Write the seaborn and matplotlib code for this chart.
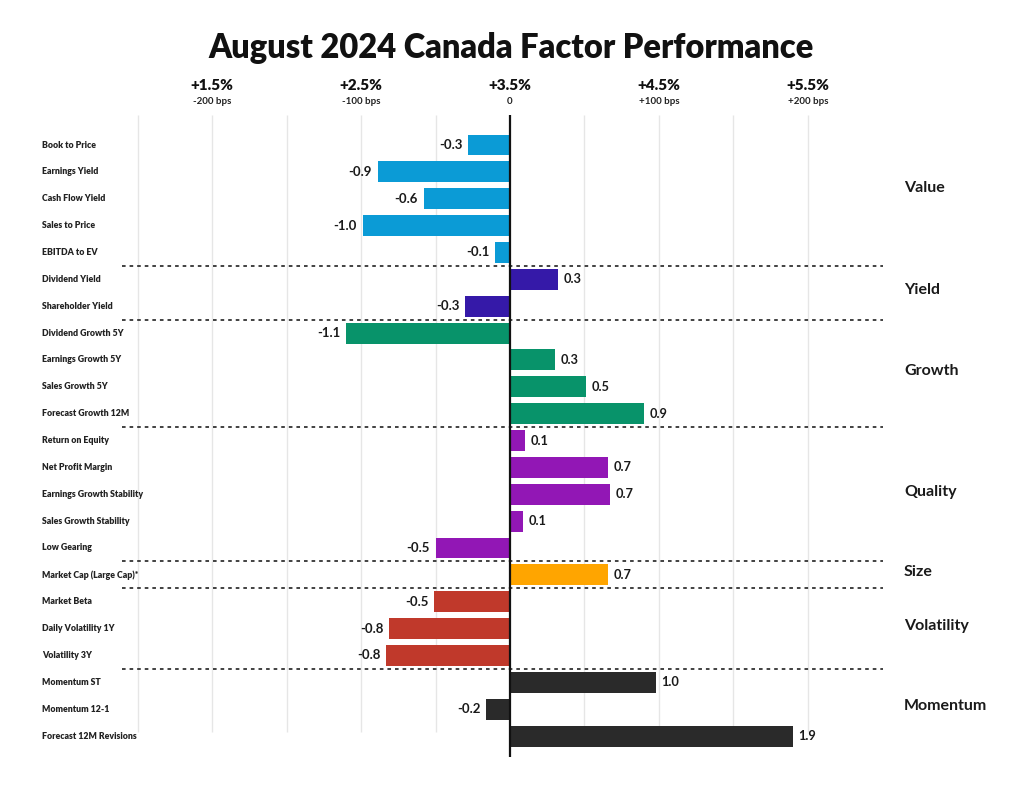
import matplotlib
matplotlib.use("Agg")
import matplotlib.pyplot as plt
import matplotlib.transforms as mtransforms
import seaborn as sns
import pandas as pd
import numpy as np

# ---------------- data ----------------
factors = [
    "Book to Price", "Earnings Yield", "Cash Flow Yield", "Sales to Price", "EBITDA to EV",
    "Dividend Yield", "Shareholder Yield",
    "Dividend Growth 5Y", "Earnings Growth 5Y", "Sales Growth 5Y", "Forecast Growth 12M",
    "Return on Equity", "Net Profit Margin", "Earnings Growth Stability", "Sales Growth Stability", "Low Gearing",
    "Market Cap (Large Cap)*",
    "Market Beta", "Daily Volatility 1Y", "Volatility 3Y",
    "Momentum ST", "Momentum 12-1", "Forecast 12M Revisions",
]
groups = (["Value"] * 5 + ["Yield"] * 2 + ["Growth"] * 4 + ["Quality"] * 5
          + ["Size"] * 1 + ["Volatility"] * 3 + ["Momentum"] * 3)
values = [
    -0.28, -0.89, -0.58, -0.99, -0.10,
    0.32, -0.30,
    -1.10, 0.30, 0.51, 0.90,
    0.10, 0.66, 0.67, 0.09, -0.50,
    0.66,
    -0.51, -0.81, -0.83,
    0.98, -0.16, 1.90,
]
group_order = ["Value", "Yield", "Growth", "Quality", "Size", "Volatility", "Momentum"]
group_colors = ["#0B9BD6", "#3519A8", "#08936A", "#9217B5", "#FFA500", "#C0392B", "#2A2A2A"]
tick_values = [-2, -1, 0, 1, 2]
tick_labels = ["+1.5%", "+2.5%", "+3.5%", "+4.5%", "+5.5%"]
tick_sublabels = ["-200 bps", "-100 bps", "0", "+100 bps", "+200 bps"]
title = "August 2024 Canada Factor Performance"

df = pd.DataFrame({"factor": factors, "group": groups, "value": values})

# ---------------- style ----------------
sns.set_theme(style="white")
plt.rcParams["font.family"] = ["Lato", "DejaVu Sans"]

fig = plt.figure(figsize=(10.24, 7.94), dpi=100)
ax = fig.add_axes([122 / 1024, 1 - 757 / 794, 761 / 1024, 642 / 794])

palette = dict(zip(group_order, group_colors))
sns.barplot(data=df, x="value", y="factor", hue="group", palette=palette,
            hue_order=group_order, order=factors, dodge=False, width=0.78,
            orient="h", legend=False, saturation=1, ax=ax, linewidth=0)

xlo, xhi = -2.606, 2.505
ylo, yhi = -1.117, 22.78
ax.set_xlim(xlo, xhi)
ax.set_ylim(yhi, ylo)

# grid lines every 0.5 except 0
grid_x = [g for g in np.arange(-2.5, 2.01, 0.5) if abs(g) > 1e-9]
ax.vlines(grid_x, ylo, 21.85, color="#e6e6e6", lw=1, zorder=0)
ax.vlines([0], ylo, yhi, color="#111111", lw=1.6, zorder=5)

# group separators
bounds = []
prev = groups[0]
for i, g in enumerate(groups):
    if g != prev:
        bounds.append(i - 0.5)
        prev = g
ax.hlines(bounds, xlo, xhi, color="#333333", lw=1.3, linestyles=(0, (2, 2.2)), zorder=4)

# value labels
for i, v in enumerate(values):
    txt = f"{v:.1f}"
    if v < 0:
        ax.annotate(txt, (v, i), xytext=(-4, 0), textcoords="offset points",
                    ha="right", va="center", fontsize=9.5, fontweight="bold", color="#1a1a1a")
    else:
        ax.annotate(txt, (v, i), xytext=(4, 0), textcoords="offset points",
                    ha="left", va="center", fontsize=9.2, fontweight="bold", color="#1a1a1a")

# category labels on the left
trans_fy = mtransforms.blended_transform_factory(fig.transFigure, ax.transData)
for i, f in enumerate(factors):
    ax.text(42 / 1024, i, f, transform=trans_fy, ha="left", va="center",
            fontsize=6.3, fontweight="heavy", color="#222222")

# group labels on the right
for g in group_order:
    idx = [i for i, gg in enumerate(groups) if gg == g]
    yc = np.mean(idx) - 0.1
    if g == "Value":
        yc = 1.6
    ax.text(904 / 1024, yc, g, transform=trans_fy, ha="left", va="center",
            fontsize=11.5, fontweight="bold", color="#1a1a1a")

# top tick labels
trans_xf = mtransforms.blended_transform_factory(ax.transData, fig.transFigure)
for tv, tl, ts in zip(tick_values, tick_labels, tick_sublabels):
    ax.text(tv, 1 - 86 / 794, tl, transform=trans_xf, ha="center", va="center",
            fontsize=11, fontweight="heavy", color="#111111")
    ax.text(tv, 1 - 102 / 794, ts, transform=trans_xf, ha="center", va="center",
            fontsize=7, fontweight="bold", color="#222222")

fig.text(511 / 1024, 1 - 48 / 794, title, ha="center", va="center",
         fontsize=23.5, fontweight="heavy", color="#111111")

ax.set_xlabel("")
ax.set_ylabel("")
ax.set_xticks([])
ax.set_yticks([])
for s in ax.spines.values():
    s.set_visible(False)

fig.savefig("out.png", dpi=100, facecolor="white")
